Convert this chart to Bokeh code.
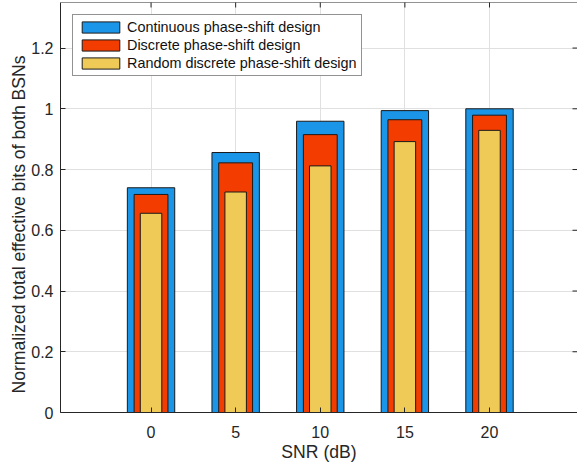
import math
from bokeh.plotting import figure
from bokeh.models import Range1d, FixedTicker, Span, Title
from bokeh.embed import file_html
from bokeh.resources import INLINE

# ---- data ----
snr = [0, 5, 10, 15, 20]
continuous = [0.740, 0.856, 0.959, 0.994, 1.000]
discrete = [0.718, 0.822, 0.915, 0.964, 0.979]
random_discrete = [0.656, 0.726, 0.812, 0.892, 0.929]
series_names = ["Continuous phase-shift design",
                "Discrete phase-shift design",
                "Random discrete phase-shift design"]
y_ticks = [0, 0.2, 0.4, 0.6, 0.8, 1.0, 1.2]
y_tick_labels = ["0", "0.2", "0.4", "0.6", "0.8", "1", "1.2"]
x_tick_labels = ["0", "5", "10", "15", "20"]

FONT = "Liberation Sans"
AX = "#262626"
X0, X1 = -5.35, 25.2
Y0, Y1 = 0, 1.35

p = figure(width=577, height=466, output_backend="svg", toolbar_location=None,
           x_range=Range1d(X0, X1), y_range=Range1d(Y0, Y1),
           min_border_left=60, min_border_right=0, min_border_top=2,
           min_border_bottom=54)
p.outline_line_color = None
p.background_fill_color = "white"
p.border_fill_color = "white"

p.vbar(x=snr, top=continuous, width=2.8, fill_color="#1b95e8",
       line_color="#1a1a1a", line_width=1, legend_label=series_names[0])
p.vbar(x=snr, top=discrete, width=2.0, fill_color="#f23c00",
       line_color="#1a1a1a", line_width=1, legend_label=series_names[1])
p.vbar(x=snr, top=random_discrete, width=1.27, fill_color="#f0ca56",
       line_color="#1a1a1a", line_width=1, legend_label=series_names[2])

# box ticks on top and right edges (inward)
p.scatter(x=snr, y=[Y1] * len(snr), marker="dash", angle=math.pi / 2,
          size=10, line_color=AX, line_width=1)
p.scatter(x=[X1] * len(y_ticks), y=y_ticks, marker="dash",
          size=10, line_color=AX, line_width=1)

# axes
xa = p.xaxis[0]
xa.ticker = FixedTicker(ticks=snr)
xa.major_label_overrides = {t: l for t, l in zip(snr, x_tick_labels)}
xa.axis_label = "SNR (dB)"
ya = p.yaxis[0]
ya.ticker = FixedTicker(ticks=y_ticks)
ya.major_label_overrides = {t: l for t, l in zip(y_ticks, y_tick_labels)}
for ax in (xa, ya):
    ax.axis_line_color = AX
    ax.major_tick_line_color = AX
    ax.major_tick_in = 5
    ax.major_tick_out = 0
    ax.minor_tick_line_color = None
    ax.major_label_text_font = FONT
    ax.major_label_text_font_size = "16px"
    ax.major_label_text_color = AX
    ax.axis_label_text_font = FONT
    ax.axis_label_text_font_size = "17.6px"
    ax.axis_label_text_font_style = "normal"
    ax.axis_label_text_color = AX
xa.major_label_standoff = 13
xa.axis_label_standoff = 1
ya.major_label_standoff = 7

ytitle = Title(text="Normalized total effective bits of both BSNs",
               align="left", offset=19, standoff=0,
               text_font=FONT, text_font_size="17.6px",
               text_font_style="normal", text_color=AX)
p.add_layout(ytitle, "left")

p.add_layout(Span(location=Y1, dimension="width", line_color=AX, line_width=1))

p.xgrid.ticker = FixedTicker(ticks=snr)
p.ygrid.ticker = FixedTicker(ticks=y_ticks)
for g in (p.xgrid[0], p.ygrid[0]):
    g.grid_line_color = "#e0e0e0"
    g.grid_line_width = 1

lg = p.legend[0]
lg.location = "top_left"
lg.margin = 12
lg.padding = 4
lg.spacing = 2
lg.glyph_width = 47
lg.glyph_height = 14
lg.label_height = 14
lg.label_standoff = 3
lg.border_line_color = AX
lg.border_line_width = 1
lg.background_fill_color = "white"
lg.background_fill_alpha = 1
lg.label_text_font = FONT
lg.label_text_font_size = "14.4px"
lg.label_text_color = "#111111"

open("out.html", "w").write(file_html(p, INLINE))
